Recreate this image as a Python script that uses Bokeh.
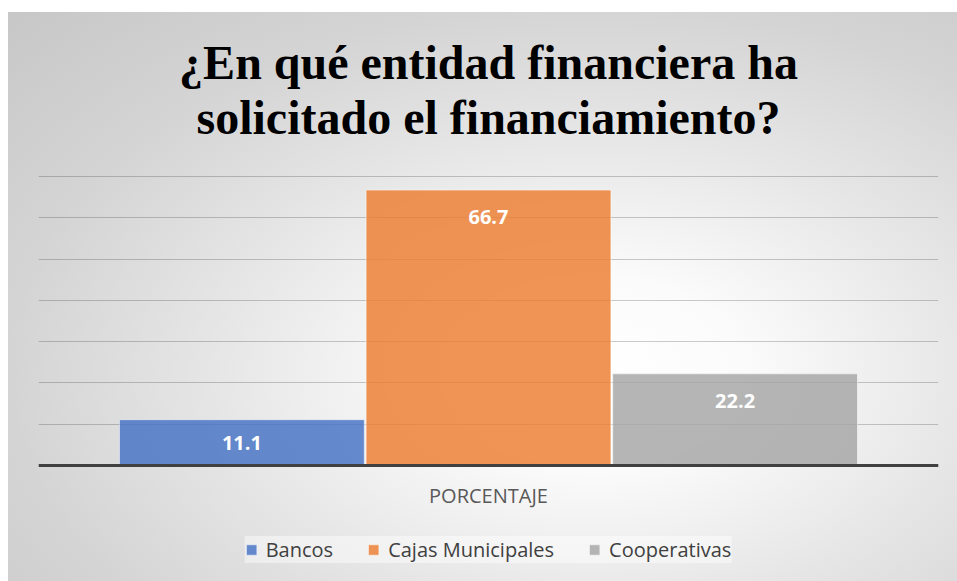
from bokeh.plotting import figure
from bokeh.models import FactorRange, Range1d, ColumnDataSource, LabelSet, Legend, LegendItem, FixedTicker, Label
from bokeh.core.properties import value
from bokeh.transform import dodge
from bokeh.embed import file_html
from bokeh.resources import INLINE

title_lines = ["¿En qué entidad financiera ha", "solicitado el financiamiento?"]
category = ["PORCENTAJE"]
series = ["Bancos", "Cajas Municipales", "Cooperativas"]
values = [11.1, 66.7, 22.2]
colors = ["#4472C4", "#ED7D31", "#A5A5A5"]
y_ticks = [0, 10, 20, 30, 40, 50, 60, 70]

# layout constants (pixels / data scale)
offsets = [-0.274, 0.0, 0.274]
bar_width = 0.272
px_per_unit = 289 / 70.0
y_start, y_end = -116 / px_per_unit, 465 / px_per_unit
label_inset = 27 / px_per_unit
category_center = 0.5  # synthetic coordinate of the single category
title_px = [465 - 62, 465 - 117]

bg = ("linear-gradient(white, white) top left / 100% 12px no-repeat, "
      "linear-gradient(white, white) top left / 8px 100% no-repeat, "
      "radial-gradient(ellipse farthest-corner at 62% 64%, #ffffff 0%, #fbfbfb 18%, "
      "#e6e6e6 45%, #d4d4d4 70%, #c6c6c6 100%)")

p = figure(
    frame_width=900, frame_height=581,
    x_range=FactorRange(*category), y_range=Range1d(y_start, y_end),
    output_backend="svg", toolbar_location=None,
    min_border_left=38, min_border_right=19,
    min_border_top=0, min_border_bottom=0,
    background_fill_alpha=0, border_fill_alpha=0,
    outline_line_color=None,
    styles={"background": bg},
)

items = []
for name, val, col, off in zip(series, values, colors, offsets):
    src = ColumnDataSource(dict(cat=category, value=[val], label=[f"{val:.1f}"],
                                ly=[max(val - label_inset, val / 2)]))
    r = p.vbar(x=dodge("cat", off, range=p.x_range), top="value", width=bar_width,
               source=src, fill_color=col, fill_alpha=0.82,
               line_color="white", line_alpha=0.5, line_width=1)
    items.append(LegendItem(label=name, renderers=[r]))
    lbl = LabelSet(x=dodge("cat", off, range=p.x_range), y="ly", text="label", source=src,
                   text_align="center", text_baseline="middle",
                   text_color="white", text_font=value("Open Sans"), text_font_style="bold",
                   text_font_size="20px")
    p.add_layout(lbl)

p.yaxis.visible = False
p.xgrid.visible = False
p.ygrid.ticker = FixedTicker(ticks=y_ticks)
p.ygrid.grid_line_color = "black"
p.ygrid.grid_line_alpha = 0.2
p.ygrid.grid_line_width = 1

xa = p.xaxis[0]
xa.fixed_location = 0
xa.axis_line_width = 3
xa.axis_line_color = "#404040"
xa.major_tick_line_color = None
xa.minor_tick_line_color = None
xa.major_label_text_font = "Open Sans"
xa.major_label_text_font_size = "20px"
xa.major_label_text_color = "#595959"
xa.major_label_standoff = 10

for line, ypx in zip(title_lines, title_px):
    p.add_layout(Label(x=category_center, y=ypx / px_per_unit, text=line,
                       text_align="center", text_baseline="alphabetic",
                       text_font="Liberation Serif", text_font_size="48px",
                       text_font_style="bold", text_color="black"))

legend = Legend(items=items, orientation="horizontal", location="bottom_center",
                label_text_font="Open Sans", label_text_font_size="20px",
                label_text_color="#404040", glyph_width=13, glyph_height=13,
                label_height=25, label_standoff=8, spacing=34, padding=10, margin=18,
                background_fill_color="white", background_fill_alpha=0.45,
                border_line_color=None)
p.add_layout(legend)

open("out.html", "w").write(file_html(p, INLINE))
